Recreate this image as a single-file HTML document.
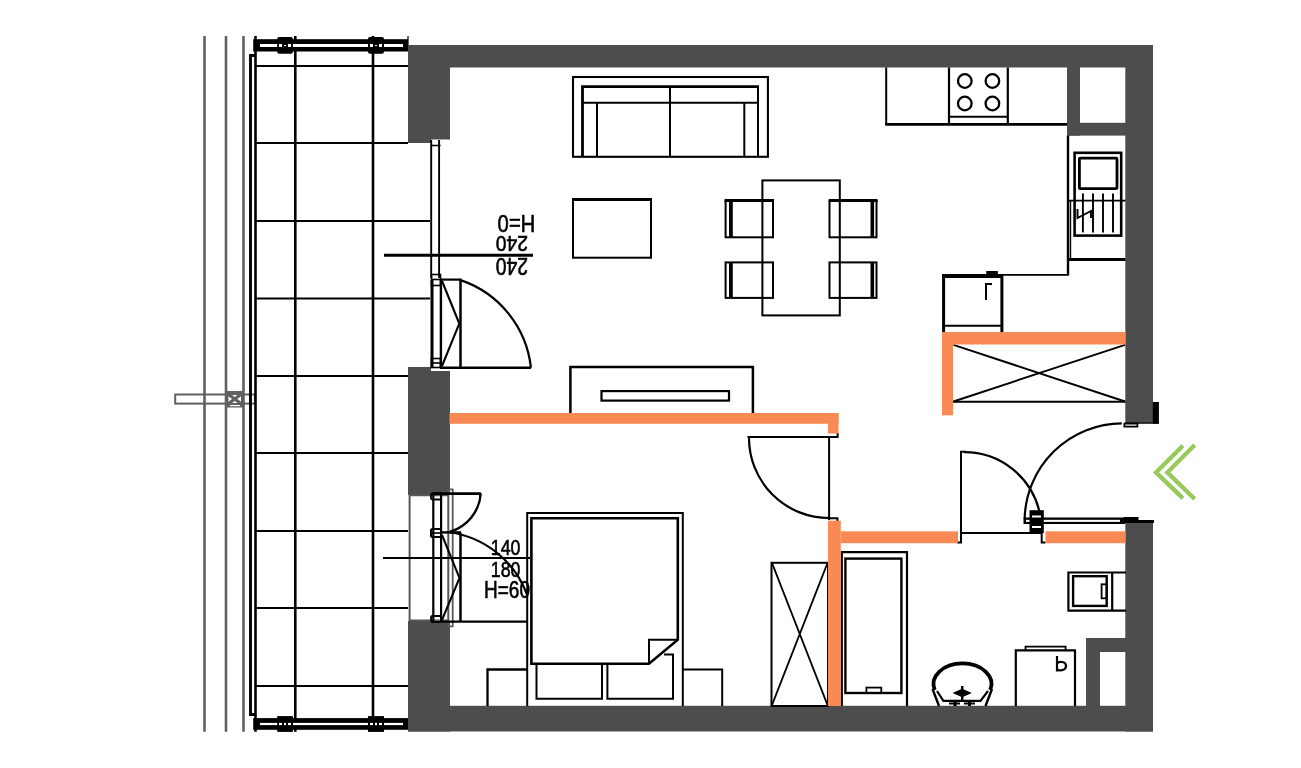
<!DOCTYPE html>
<html><head><meta charset="utf-8">
<style>
html,body{margin:0;padding:0;background:#fff;width:1301px;height:768px;overflow:hidden}
svg{display:block;will-change:transform}
text{font-family:"Liberation Sans",sans-serif}
</style></head><body>
<svg width="1301" height="768" viewBox="0 0 1301 768">
<rect x="0" y="0" width="1301" height="768" fill="#fff"/>

<!-- balcony gray lines -->
<g stroke="#606060" stroke-width="2.6" fill="none">
  <line x1="204.5" y1="36" x2="204.5" y2="731.8"/>
  <line x1="226" y1="36" x2="226" y2="731.8"/>
  <line x1="243.5" y1="36" x2="243.5" y2="731.8"/>
</g>
<rect x="175.2" y="394.5" width="79.7" height="9.1" stroke="#606060" stroke-width="2" fill="none"/>
<rect x="226" y="391" width="17.5" height="16.5" fill="#606060"/>
<rect x="228.5" y="395" width="12.5" height="8" fill="#fff"/>
<path d="M228,394 L241.5,404 M241.5,394 L228,404" stroke="#606060" stroke-width="3.2"/>
<rect x="230" y="405" width="10" height="1.2" fill="#fff"/>

<!-- balcony black lines -->
<g stroke="#000" fill="none">
  <path d="M255,55.5 H250.5 V714.5 H255" stroke-width="2.9"/>
  <line x1="255.5" y1="36" x2="255.5" y2="731.8" stroke-width="2.6"/>
  <line x1="295.3" y1="36" x2="295.3" y2="731.8" stroke-width="2.6"/>
  <line x1="373" y1="36" x2="373" y2="731.8" stroke-width="2.6"/>
  <line x1="408" y1="36" x2="408" y2="45" stroke-width="1.2"/>
  <g stroke-width="2.2">
    <line x1="256" y1="66" x2="408" y2="66"/>
    <line x1="256" y1="143" x2="408" y2="143"/>
    <line x1="256" y1="221" x2="430" y2="221"/>
    <line x1="256" y1="298.5" x2="430" y2="298.5"/>
    <line x1="256" y1="376" x2="408" y2="376"/>
    <line x1="256" y1="453" x2="408" y2="453"/>
    <line x1="256" y1="531" x2="408" y2="531"/>
    <line x1="256" y1="608" x2="408" y2="608"/>
    <line x1="256" y1="686" x2="408" y2="686"/>
  </g>
</g>
<!-- top railing -->
<g>
  <rect x="253.2" y="39.2" width="154.8" height="12.3" fill="#000"/>
  <rect x="260" y="44" width="143" height="3" fill="#fff"/>
  <rect x="277.2" y="37" width="15.7" height="16.7" rx="2" fill="#000"/>
  <rect x="279" y="44" width="3" height="3" fill="#fff"/>
  <rect x="284" y="45" width="2" height="1" fill="#fff"/>
  <rect x="288" y="44" width="3" height="3" fill="#fff"/>
  <rect x="368" y="37" width="16" height="16.7" rx="2" fill="#000"/>
  <rect x="370" y="44" width="3" height="3" fill="#fff"/>
  <rect x="375" y="45" width="2" height="1" fill="#fff"/>
  <rect x="379" y="44" width="3" height="3" fill="#fff"/>
</g>
<!-- bottom railing -->
<g>
  <rect x="253.2" y="718.1" width="154.8" height="11.7" fill="#000"/>
  <rect x="260" y="722.9" width="143" height="2.2" fill="#fff"/>
  <rect x="277.2" y="716.1" width="15.7" height="15.8" fill="#000"/>
  <rect x="279" y="722.9" width="3" height="2.2" fill="#fff"/>
  <rect x="284" y="722.9" width="2" height="2.2" fill="#fff"/>
  <rect x="288" y="722.9" width="3" height="2.2" fill="#fff"/>
  <rect x="368" y="716.1" width="16" height="15.8" fill="#000"/>
  <rect x="370" y="722.9" width="3" height="2.2" fill="#fff"/>
  <rect x="375" y="722.9" width="2" height="2.2" fill="#fff"/>
  <rect x="379" y="722.9" width="3" height="2.2" fill="#fff"/>
</g>

<!-- walls -->
<g fill="#4d4d4d">
  <rect x="408" y="45" width="745" height="22.5"/>
  <path d="M408,45 H450 V139.6 H431 V143 H408 Z"/>
  <path d="M408,367 H431 V371 H450 V495 H408 Z"/>
  <rect x="408" y="621" width="42" height="110.5"/>
  <rect x="408" y="705.8" width="745" height="25.7"/>
  <rect x="1125.3" y="45" width="27.7" height="377.6"/>
  <rect x="1125.3" y="521.3" width="27.7" height="210.2"/>
  <rect x="1067" y="67" width="13" height="68.6"/>
  <rect x="1067" y="122.8" width="59" height="12.8"/>
  <rect x="1086" y="638" width="14" height="68"/>
  <rect x="1086" y="638" width="40" height="14"/>
</g>


<g stroke="#000" fill="none" stroke-width="2">
  <!-- sofa -->
  <rect x="573" y="77" width="194.9" height="79.8" stroke-width="2.1"/>
  <path d="M582.5,157 V86.6 H759" stroke-width="2.8"/>
  <line x1="758" y1="86" x2="758" y2="157" stroke-width="2"/>
  <line x1="583" y1="102.8" x2="757" y2="102.8"/>
  <line x1="597" y1="102.8" x2="597" y2="156"/>
  <line x1="670" y1="87" x2="670" y2="156"/>
  <line x1="744.3" y1="102.8" x2="744.3" y2="156"/>
  <!-- coffee table -->
  <rect x="573" y="199.5" width="78" height="58.2"/>
  <line x1="572" y1="199.5" x2="652" y2="199.5" stroke-width="3"/>
  <!-- dining table -->
  <rect x="762.4" y="180.4" width="77.4" height="135"/>
  <!-- chairs -->
  <rect x="725.6" y="200.9" width="47.4" height="36.4"/>
  <rect x="725.6" y="262.4" width="47.4" height="35.5"/>
  <rect x="829.5" y="200.9" width="47" height="36.4"/>
  <rect x="829.5" y="262.4" width="47" height="35.5"/>
  <line x1="730.9" y1="201" x2="730.9" y2="237.3" stroke-width="3.8"/>
  <line x1="730.9" y1="262.4" x2="730.9" y2="297.9" stroke-width="3.8"/>
  <line x1="872.3" y1="201" x2="872.3" y2="237.3" stroke-width="3.6"/>
  <line x1="872.3" y1="262.4" x2="872.3" y2="297.9" stroke-width="3.6"/>
  <line x1="724.6" y1="200.4" x2="774" y2="200.4" stroke-width="3"/>
  <line x1="828.7" y1="200.4" x2="877.5" y2="200.4" stroke-width="3"/>
  <!-- kitchen counter -->
  <path d="M886.2,67.5 V124 H1067"/>
  <line x1="885.2" y1="124.3" x2="1067" y2="124.3" stroke-width="2.8"/>
  <line x1="949" y1="67.5" x2="949" y2="124" stroke-width="2.2"/>
  <line x1="1007.8" y1="67.5" x2="1007.8" y2="124" stroke-width="2.2"/>
  <line x1="949" y1="116.7" x2="1008" y2="116.7"/>
  <circle cx="964.8" cy="81" r="6.8" stroke-width="2.3"/>
  <circle cx="992.4" cy="81" r="6.8" stroke-width="2.3"/>
  <circle cx="964.8" cy="103.5" r="6.8" stroke-width="2.3"/>
  <circle cx="992.4" cy="103.5" r="6.8" stroke-width="2.3"/>
  <!-- sink unit -->
  <line x1="1068" y1="135.6" x2="1068" y2="275.5" stroke-width="2.4"/>
  <line x1="1070.5" y1="200.7" x2="1070.5" y2="259.7" stroke-width="1.4"/>
  <rect x="1074.6" y="152.8" width="46.6" height="82.8" stroke-width="2.6"/>
  <rect x="1079.4" y="158.1" width="37.6" height="30.6" rx="1" stroke-width="2.8"/>
  <line x1="1067" y1="200.7" x2="1125.5" y2="200.7" stroke-width="1.8"/>
  <line x1="1067" y1="259.4" x2="1125.5" y2="259.4" stroke-width="3"/>
  <g stroke-width="1.9">
    <line x1="1082.9" y1="193.4" x2="1082.9" y2="232.4"/>
    <line x1="1093" y1="193.4" x2="1093" y2="232.4"/>
    <line x1="1103" y1="193.4" x2="1103" y2="232.4"/>
    <line x1="1113" y1="193.4" x2="1113" y2="232.4"/>
    <path d="M1077.5,209 V218 L1091,211 V218"/>
  </g>
  <!-- counter to fridge -->
  <line x1="1001" y1="274.9" x2="1068" y2="274.9" stroke-width="1.9"/>
  <!-- fridge -->
  <path d="M943.6,332 V276 H1001.9 V332" stroke-width="3"/>
  <line x1="942" y1="275.9" x2="1002.7" y2="275.9" stroke-width="4"/>
  <line x1="1001.9" y1="277" x2="1001.9" y2="332" stroke-width="1.8"/>
  <line x1="944" y1="325.8" x2="1002" y2="325.8" stroke-width="2"/>
  <rect x="986.25" y="271" width="11.6" height="4" fill="#000" stroke="none"/>
  <path d="M986,300 V283.9 H992" stroke-width="2"/>
  <!-- X box -->
  <line x1="953" y1="401.8" x2="1125.5" y2="401.8"/>
  <path d="M953.5,344.8 L1125,401.5 M953.5,401.5 L1125,344.8" stroke-width="1.9"/>
  <!-- TV stand -->
  <path d="M570.4,413 V367.1 H752.9 V413" stroke-width="2.5"/>
  <rect x="601.5" y="391.1" width="127.5" height="9.5" stroke-width="2.2"/>

  <!-- living window/door frame -->
  <line x1="431.2" y1="140" x2="431.2" y2="278" stroke-width="1.9"/>
  <line x1="439.1" y1="140" x2="439.1" y2="278" stroke-width="1.9"/>
  <line x1="431" y1="145.5" x2="440.5" y2="145.5" stroke-width="1.6"/>
  <rect x="431.5" y="274.5" width="9" height="11" stroke-width="1.6"/>
  <line x1="431.5" y1="279.5" x2="440.5" y2="279.5" stroke-width="1.6"/>
  <line x1="432" y1="280" x2="432" y2="367" stroke-width="3"/>
  <line x1="440.9" y1="280" x2="440.9" y2="367" stroke-width="2.4"/>
  <rect x="431.5" y="358.5" width="9" height="9" stroke-width="1.6"/>
  <line x1="431.5" y1="363" x2="440.5" y2="363" stroke-width="1.6"/>
  <line x1="460.5" y1="278.7" x2="460.5" y2="368.5" stroke-width="2.5"/>
  <line x1="440" y1="279.6" x2="461" y2="279.6" stroke-width="2.2"/>
  <line x1="440" y1="367.8" x2="531" y2="367.8" stroke-width="2.6"/>
  <path d="M442,281 L459.3,323.6 L442,366" stroke-width="2.1"/>
  <line x1="384" y1="255.3" x2="533" y2="255.3" stroke-width="3"/>

  <!-- bedroom window -->
  <g stroke="#585858" stroke-width="2">
    <line x1="409.6" y1="494" x2="409.6" y2="621"/>
    <line x1="409" y1="495.3" x2="448" y2="495.3"/>
    <line x1="409" y1="620.5" x2="448" y2="620.5"/>
    <line x1="448.3" y1="489.3" x2="448.3" y2="626.3"/>
    <path d="M448.3,489.3 H452.7 V626.3 H448.3" stroke-width="1.8"/>
  </g>
  <line x1="433.3" y1="494" x2="433.3" y2="621" stroke-width="2.2"/>
  <line x1="441.1" y1="494" x2="441.1" y2="621" stroke-width="2.2"/>
  <rect x="431" y="493.5" width="10" height="6" rx="1.5" stroke-width="1.8"/>
  <rect x="431" y="529" width="10" height="8" rx="1.5" stroke-width="2"/>
  <line x1="431" y1="533" x2="441" y2="533" stroke-width="1.6"/>
  <rect x="431" y="616" width="10" height="6" rx="1.5" stroke-width="1.8"/>
  <line x1="432.2" y1="493.6" x2="480.9" y2="493.6" stroke-width="2.8"/>
  <line x1="480" y1="493" x2="480" y2="500" stroke-width="2"/>
  <line x1="460.5" y1="532.7" x2="460.5" y2="621" stroke-width="2.5"/>
  <line x1="441" y1="532.4" x2="461" y2="532.4" stroke-width="2.4"/>
  <line x1="441" y1="621.6" x2="527" y2="621.6" stroke-width="2.2"/>
  <path d="M442,535 L459.5,578 L442,620" stroke-width="2"/>
  <line x1="383" y1="558" x2="530" y2="558" stroke-width="2.2"/>

  <!-- bed -->
  <path d="M527.2,706 V513 H682.8 V706" stroke-width="2"/>
  <path d="M531.4,663.8 V518.3 H677.8 V639.7 L649,663.8 Z" stroke-width="2.6"/>
  <path d="M649,663.8 V639.7 H677.5" stroke-width="2"/>
  <path d="M536.5,664 V698.8 H602 V664" stroke-width="2"/>
  <path d="M607.4,664 V698.8 H673 V654.4 H664" stroke-width="2"/>
  <path d="M487.5,706 V669.5 H527" stroke-width="2.3"/>
  <path d="M683,669.5 H722.2 V706" stroke-width="2"/>

  <!-- bedroom door -->
  <line x1="829.1" y1="436" x2="829.1" y2="520" stroke-width="2"/>
  <path d="M747.5,437 H837.6 V433" stroke-width="2"/>
  <path d="M829,518.3 H837.4 V521" stroke-width="2"/>

  <!-- bathroom door -->
  <path d="M957,542.4 H961 V451.8 H966" stroke-width="2"/>
  <line x1="961" y1="533.1" x2="1042" y2="533.1" stroke-width="2"/>
  <path d="M1041.7,533 V542.4 H1045.5" stroke-width="2"/>

  <!-- entrance door -->
  <path d="M1023.5,517.5 H1125 V524 H1023.5 Z" fill="#000" stroke="none"/>
  <rect x="1026" y="519.8" width="94" height="2.1" fill="#fff" stroke="none"/>
  <rect x="1029.5" y="510.2" width="14.3" height="22.8" fill="#000" stroke="none"/>
  <rect x="1032" y="515.5" width="9" height="2" fill="#fff" stroke="none"/>
  <rect x="1032" y="526" width="9" height="2" fill="#fff" stroke="none"/>
  <rect x="1123.5" y="517" width="15" height="4" fill="#000" stroke="none"/>
  <rect x="1125" y="520" width="29" height="3" fill="#000" stroke="none"/>
  <rect x="1152.8" y="402" width="6.1" height="21.6" fill="#000" stroke="none"/>
  <line x1="1125" y1="423" x2="1159" y2="423" stroke-width="1.4"/>
  <rect x="1124.4" y="423.6" width="13" height="3" stroke-width="1.8"/>

  <!-- wardrobe -->
  <rect x="771.5" y="562.8" width="56.5" height="143.2"/>
  <path d="M772,563 L827.5,705 M827.5,563 L772,705" stroke-width="1.9"/>

  <!-- bathtub -->
  <path d="M841.8,706 V552.2 H907 V706" stroke-width="2.2"/>
  <rect x="845.4" y="558.6" width="56" height="134.4" stroke-width="2.4"/>
  <rect x="866.4" y="687.6" width="14.9" height="5.4" stroke-width="1.8"/>

  <!-- washbasin -->
  <path d="M934.8,690 A29,20.5 0 1 1 990.2,690" stroke-width="3.8"/>
  <path d="M937,691 L943.4,700.8 H980.5 L988,691" stroke-width="2.2"/>
  <path d="M932.5,689 L939,706 M992,689 L985.5,706" stroke-width="2.4"/>
  <path d="M954.4,693 L962.2,689.5 L970,693 L962.2,696.5 Z" fill="#000" stroke-width="1.5"/>
  <path d="M962.2,686 V700" stroke-width="2.5"/>
  <path d="M949,703.5 H960 M964,703.5 H975" stroke-width="2.2"/>
  <path d="M955,700 V706 M969.5,700 V706" stroke-width="3"/>

  <!-- wc -->
  <path d="M1015.8,706 V650.4 H1075 V706" stroke-width="2.2"/>
  <path d="M1025.5,650 V646.7 H1065.6 V650" stroke-width="1.8"/>
  <path d="M1057,656 V671.5 M1057,664 C1058,661 1066,661 1066,666 C1066,671 1058,671 1057,669" stroke-width="2.2"/>

  <!-- washing machine -->
  <path d="M1126,572.5 H1068.4 V610.6 H1126" stroke-width="2.2"/>
  <line x1="1112.2" y1="572.5" x2="1112.2" y2="610.6" stroke-width="2.2"/>
  <rect x="1073.1" y="576.2" width="33.6" height="29.7" stroke-width="2.4"/>
  <rect x="1101.6" y="584.3" width="5" height="14" stroke-width="1.8"/>

  <!-- arcs -->
  <path d="M461.30,280.35 A104.25,104.25 0 0 1 530.94,367.60" stroke-width="2.2" />
  <path d="M449.50,532.22 A96.7,96.7 0 0 1 527.00,594.74" stroke-width="2.2" />
  <path d="M480.78,493.50 A43.2,43.2 0 0 1 450.00,531.71" stroke-width="2.4" />
  <path d="M749.00,438.00 A80,80 0 0 0 829.00,518.00" stroke-width="2.2" />
  <path d="M964.40,452.20 A77.1,77.1 0 0 1 1039.50,511.85" stroke-width="2.2" />
  <path d="M1024.64,518.50 A97.8,97.8 0 0 1 1121.72,423.40" stroke-width="2.2" />
</g>

<g fill="#000" stroke="#000" stroke-width="0.6">
  <text x="516.45" y="231.8" font-size="23" text-anchor="middle" textLength="37.7" lengthAdjust="spacingAndGlyphs" transform="rotate(180 516.45 223.4)">H=0</text>
  <text x="511.8" y="252.3" font-size="22.8" text-anchor="middle" textLength="32.2" lengthAdjust="spacingAndGlyphs" transform="rotate(180 511.8 244.35)">240</text>
  <text x="511.8" y="274.9" font-size="23.1" text-anchor="middle" textLength="32.2" lengthAdjust="spacingAndGlyphs" transform="rotate(180 511.8 266.65)">240</text>
  <text x="505.6" y="554.8" font-size="22.6" text-anchor="middle" textLength="29.7" lengthAdjust="spacingAndGlyphs">140</text>
  <text x="505.6" y="577.2" font-size="22.6" text-anchor="middle" textLength="29.7" lengthAdjust="spacingAndGlyphs">180</text>
  <text x="507" y="598" font-size="23.6" text-anchor="middle" textLength="45.9" lengthAdjust="spacingAndGlyphs">H=60</text>
</g>

<!-- orange partitions -->
<g fill="#fa8a55">
  <rect x="449.5" y="413" width="389" height="10.8"/>
  <rect x="828" y="413" width="10.5" height="20.5"/>
  <rect x="828" y="520.7" width="12.8" height="185.3"/>
  <rect x="840.8" y="531.3" width="117.2" height="11.9"/>
  <rect x="1045.5" y="531.3" width="80" height="11.9"/>
  <rect x="942" y="332" width="183.5" height="12.5"/>
  <rect x="942" y="332" width="11" height="83.3"/>
</g>

<!-- green chevrons -->
<g stroke="#99c95b" stroke-width="4.3" fill="none">
  <path d="M1183,445.6 L1156,472.4 L1183,498.4"/>
  <path d="M1194.7,445 L1167.3,472.4 L1194.7,499"/>
</g>

</svg>
</body></html>
